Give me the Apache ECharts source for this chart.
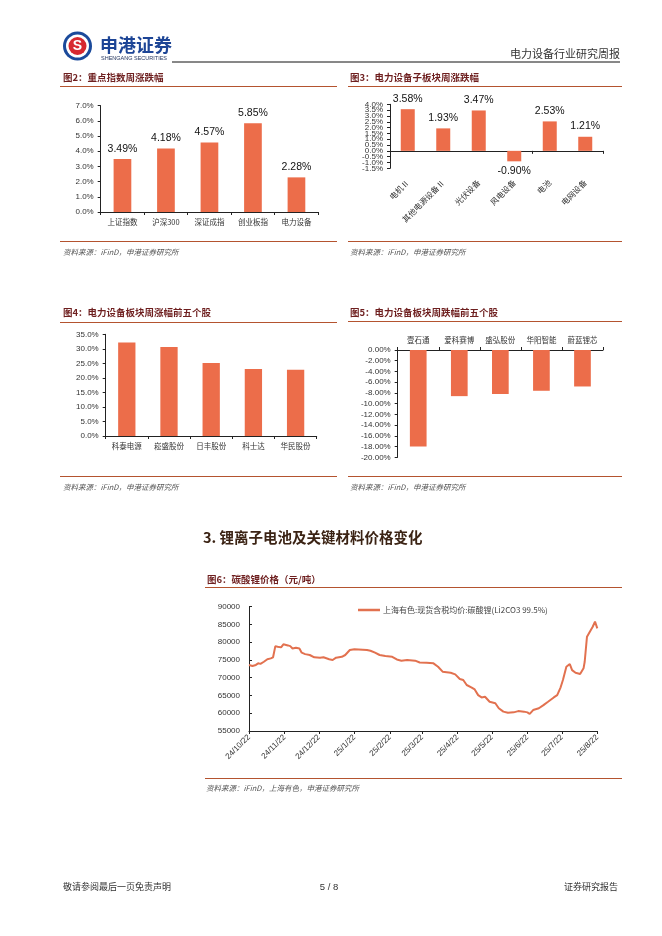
<!DOCTYPE html>
<html><head><meta charset="utf-8">
<script src="https://cdn.jsdelivr.net/npm/echarts@6/dist/echarts.min.js"></script>
<style>html,body{margin:0;padding:0;background:#fff;}#c{width:662px;height:936px;}</style>
</head><body><div id="c"></div>
<script>
// ---------- DATA ----------
const fig2Categories = ['上证指数', '沪深300', '深证成指', '创业板指', '电力设备'];
const fig2Values = [3.49, 4.18, 4.57, 5.85, 2.28];

const fig3Categories = ['电机Ⅱ', '其他电源设备Ⅱ', '光伏设备', '风电设备', '电池', '电网设备'];
const fig3Values = [3.58, 1.93, 3.47, -0.90, 2.53, 1.21];

const fig4Categories = ['科泰电源', '崧盛股份', '日丰股份', '科士达', '华民股份'];
const fig4Values = [32.2, 30.6, 25.1, 23.1, 22.8];

const fig5Categories = ['壹石通', '爱科赛博', '盛弘股份', '华阳智能', '蔚蓝锂芯'];
const fig5Values = [-18.0, -8.6, -8.2, -7.6, -6.8];

const fig6SeriesName = '上海有色:现货含税均价:碳酸锂(Li2CO3 99.5%)';
const fig6TickLabels = ['24/10/22', '24/11/22', '24/12/22', '25/1/22', '25/2/22', '25/3/22', '25/4/22', '25/5/22', '25/6/22', '25/7/22', '25/8/22'];
const fig6Dates = ['24/10/22','24/10/25','24/10/28','24/10/30','24/11/1','24/11/4','24/11/7','24/11/10','24/11/12','24/11/14','24/11/16','24/11/19','24/11/21','24/11/25','24/11/27','24/11/29','24/12/2','24/12/5','24/12/7','24/12/10','24/12/14','24/12/18','24/12/23','24/12/26','24/12/31','25/1/3','25/1/6','25/1/11','25/1/14','25/1/18','25/1/22','25/2/2','25/2/5','25/2/9','25/2/13','25/2/18','25/2/24','25/2/28','25/3/4','25/3/9','25/3/16','25/3/20','25/3/26','25/4/1','25/4/5','25/4/9','25/4/16','25/4/20','25/4/24','25/4/27','25/4/30','25/5/4','25/5/7','25/5/10','25/5/13','25/5/16','25/5/20','25/5/25','25/5/28','25/6/1','25/6/5','25/6/10','25/6/14','25/6/19','25/6/22','25/6/24','25/6/27','25/7/2','25/7/6','25/7/10','25/7/15','25/7/18','25/7/21','25/7/23','25/7/26','25/7/29','25/7/31','25/8/3','25/8/7','25/8/10','25/8/11','25/8/13','25/8/16','25/8/18','25/8/20','25/8/21','25/8/22'];
const fig6Values = [73600,73300,73600,74050,73900,74500,75200,75450,75750,78900,78750,78550,79400,79100,78900,78250,78450,78250,77050,76650,76400,75750,75650,75750,75200,75000,75650,75900,76400,77800,78000,77800,77600,77050,76400,76100,75900,75150,74800,75000,74800,74300,74200,74050,73100,71700,71400,70950,69650,69350,67950,67300,66700,65100,64450,64650,63250,62800,61400,60450,60150,60250,60600,60450,60250,59800,60900,61400,62300,63250,64450,65100,67300,69350,73100,73850,72150,71400,71050,72650,74500,81550,83250,84350,85800,85300,83900];

// ---------- STYLE ----------
const BAR = '#EC6D4A';
const LINE = '#E2714F';
const RULE = '#B4532F';
const TITLE = '#6E1F1F';
const AX = '#222';
const LAT = '"Liberation Sans", Arial, "Noto Sans CJK SC", sans-serif';
const CJK = '"Noto Sans CJK SC", "Liberation Sans", sans-serif';

// calendar-day categories for the date axis, spanning first..last tick label
function parseD(s) { const p = s.split('/').map(Number); return Date.UTC(2000 + p[0], p[1] - 1, p[2]); }
function fmtD(t) { const d = new Date(t); return (d.getUTCFullYear() % 100) + '/' + (d.getUTCMonth() + 1) + '/' + d.getUTCDate(); }
const dayCats = [];
for (let t = parseD(fig6TickLabels[0]); t <= parseD(fig6TickLabels[fig6TickLabels.length - 1]); t += 86400000) dayCats.push(fmtD(t));
const tickSet = new Set(fig6TickLabels);

function T(x, y, text, font, fill, align, va) {
  return { type: 'text', x: x, y: y, silent: true, style: { text: text, font: font, fill: fill || '#333', align: align || 'left', verticalAlign: va || 'middle' } };
}
function L(x1, y1, x2, y2, c, w) {
  return { type: 'line', silent: true, shape: { x1: x1, y1: y1, x2: x2, y2: y2 }, style: { stroke: c, lineWidth: w || 1 } };
}

const pct1 = v => v.toFixed(1) + '%';
const pct2 = v => v.toFixed(2) + '%';
const isWhole = v => Math.abs(v - Math.round(v)) < 1e-6;

const catAxisBase = (gi, cats, extra) => Object.assign({
  type: 'category', gridIndex: gi, data: cats,
  axisLine: { show: true, lineStyle: { color: AX, width: 1 } },
  axisTick: { show: true, length: 3, lineStyle: { color: AX } },
  axisLabel: { fontFamily: CJK, fontSize: 7.5, color: '#333', margin: 6, interval: 0 },
  splitLine: { show: false }
}, extra || {});
const valLabel = (fmt, margin, size) => ({
  fontFamily: LAT, fontSize: size || 8, color: '#333', margin: margin || 7, formatter: fmt,
  hideOverlap: false, showMinLabel: true, showMaxLabel: true
});
const valAxisBase = (gi, min, max, interval, fmt, extra) => Object.assign({
  type: 'value', gridIndex: gi, min: min, max: max, interval: interval,
  axisLine: { show: true, lineStyle: { color: AX, width: 1 } },
  axisTick: { show: true, length: 3, lineStyle: { color: AX } },
  axisLabel: valLabel(fmt),
  splitLine: { show: false }
}, extra || {});

const graphics = [
  // logo
  { type: 'circle', silent: true, shape: { cx: 77.5, cy: 46, r: 14.5 }, style: { fill: '#1B4A9B' } },
  { type: 'circle', silent: true, shape: { cx: 77.5, cy: 46, r: 11.5 }, style: { fill: '#fff' } },
  { type: 'circle', silent: true, shape: { cx: 77.5, cy: 46, r: 9 }, style: { fill: '#D7282F' } },
  T(77.5, 46.5, 'S', 'bold 14px "Liberation Sans"', '#fff', 'center'),
  T(100, 45, '申港证券', 'bold 18px "Noto Sans CJK SC"', '#1D4596'),
  T(101, 58.5, 'SHENGANG SECURITIES', '5.5px "Liberation Sans"', '#1D2F5A'),
  L(172, 62, 620, 62, '#111', 1),
  T(620, 54, '电力设备行业研究周报', '11px "Noto Sans CJK SC"', '#333', 'right'),

  // fig 2
  T(63, 77, '图2：重点指数周涨跌幅', 'bold 9.5px ' + CJK, TITLE),
  L(60, 86.5, 337, 86.5, RULE, 1),
  L(60, 241.5, 337, 241.5, RULE, 1),
  T(63, 252, '资料来源：iFinD，申港证券研究所', 'italic 7.5px ' + CJK, '#555'),

  // fig 3
  T(350, 77, '图3：电力设备子板块周涨跌幅', 'bold 9.5px ' + CJK, TITLE),
  L(348, 86.5, 622, 86.5, RULE, 1),
  L(348, 241.5, 622, 241.5, RULE, 1),
  T(350, 252, '资料来源：iFinD，申港证券研究所', 'italic 7.5px ' + CJK, '#555'),

  // fig 4
  T(63, 312.5, '图4：电力设备板块周涨幅前五个股', 'bold 9.5px ' + CJK, TITLE),
  L(60, 322.5, 337, 322.5, RULE, 1),
  L(60, 476.5, 337, 476.5, RULE, 1),
  T(63, 487, '资料来源：iFinD，申港证券研究所', 'italic 7.5px ' + CJK, '#555'),

  // fig 5
  T(350, 312.5, '图5：电力设备板块周跌幅前五个股', 'bold 9.5px ' + CJK, TITLE),
  L(348, 321.5, 622, 321.5, RULE, 1),
  L(348, 476.5, 622, 476.5, RULE, 1),
  T(350, 487, '资料来源：iFinD，申港证券研究所', 'italic 7.5px ' + CJK, '#555'),

  // section heading
  T(203, 537.5, '3. 锂离子电池及关键材料价格变化', 'bold 14.5px ' + CJK, '#3B2314'),

  // fig 6
  T(207, 579, '图6：碳酸锂价格（元/吨）', 'bold 9.5px ' + CJK, TITLE),
  L(205, 587.5, 622, 587.5, RULE, 1),
  L(205, 778.5, 622, 778.5, RULE, 1),
  T(206, 788.5, '资料来源：iFinD，上海有色，申港证券研究所', 'italic 7.5px ' + CJK, '#555'),

  // footer
  T(63, 887, '敬请参阅最后一页免责声明', '9px ' + CJK, '#333'),
  T(329, 887, '5 / 8', '9.5px "Liberation Sans"', '#333', 'center'),
  T(618, 887, '证券研究报告', '9px ' + CJK, '#333', 'right')
];

const option = {
  animation: false,
  backgroundColor: '#fff',
  textStyle: { fontFamily: LAT },
  graphic: { elements: graphics },
  legend: {
    show: true, left: 353, top: 601, itemWidth: 22, itemHeight: 2.5, itemGap: 4,
    icon: 'rect', data: [fig6SeriesName],
    textStyle: { fontFamily: CJK, fontSize: 8, color: '#444', padding: [0, 0, 0, -2] }
  },
  grid: [
    { left: 100.7, top: 105.7, width: 217.5, height: 106.3, containLabel: false, outerBoundsMode: 'none' },
    { left: 390, top: 104.3, width: 213, height: 64, containLabel: false, outerBoundsMode: 'none' },
    { left: 105.7, top: 334.3, width: 211, height: 101.7, containLabel: false, outerBoundsMode: 'none' },
    { left: 397.7, top: 350, width: 205.3, height: 107.3, containLabel: false, outerBoundsMode: 'none' },
    { left: 249, top: 606.7, width: 348.3, height: 124.3, containLabel: false, outerBoundsMode: 'none' }
  ],
  xAxis: [
    catAxisBase(0, fig2Categories),
    catAxisBase(1, fig3Categories, { axisLabel: { show: false } }),
    catAxisBase(1, fig3Categories, {
      position: 'bottom',
      axisLine: { show: false, onZero: false }, axisTick: { show: false },
      axisLabel: { fontFamily: CJK, fontSize: 8, color: '#333', rotate: 45, margin: 13, interval: 0 }
    }),
    catAxisBase(2, fig4Categories),
    catAxisBase(3, fig5Categories, { position: 'top', axisLine: { show: true, onZero: false, lineStyle: { color: AX } } }),
    {
      type: 'category', gridIndex: 4, data: dayCats, boundaryGap: false,
      axisLine: { show: true, onZero: false, lineStyle: { color: AX } },
      axisTick: { show: true, length: 3, lineStyle: { color: AX }, interval: (i, v) => tickSet.has(v) },
      axisLabel: { fontFamily: LAT, fontSize: 8, color: '#333', rotate: 45, margin: 5, interval: (i, v) => tickSet.has(v) },
      splitLine: { show: false }
    }
  ],
  yAxis: [
    valAxisBase(0, 0, 7, 1, pct1),
    // fig 3: whole-percent labels on this axis, half-percent labels on the companion axis below
    valAxisBase(1, -1.5, 4, 0.5, pct1, { position: 'left', axisLabel: valLabel(v => isWhole(v) ? pct1(v) : '', 7, 8) }),
    valAxisBase(2, 0, 35, 5, pct1),
    valAxisBase(3, -20, 0, 2, pct2),
    valAxisBase(4, 55000, 90000, 5000, v => String(v), {
      axisTick: { show: true, inside: true, length: 3, lineStyle: { color: AX } },
      axisLabel: valLabel(v => String(v), 9, 8)
    }),
    valAxisBase(1, -1.5, 4, 0.5, pct1, {
      position: 'left', axisLine: { show: false }, axisTick: { show: false },
      axisLabel: valLabel(v => isWhole(v) ? '' : pct1(v), 7, 8)
    })
  ],
  series: [
    {
      type: 'bar', xAxisIndex: 0, yAxisIndex: 0, data: fig2Values, barWidth: 17.7,
      itemStyle: { color: BAR },
      label: { show: true, position: 'top', distance: 5, fontFamily: LAT, fontSize: 10.5, color: '#111', formatter: p => pct2(p.value) }
    },
    {
      type: 'bar', xAxisIndex: 1, yAxisIndex: 1, barWidth: 14,
      data: fig3Values.map(v => ({ value: v, label: { position: v < 0 ? 'bottom' : 'top' } })),
      itemStyle: { color: BAR },
      label: { show: true, distance: 5, fontFamily: LAT, fontSize: 10.5, color: '#111', formatter: p => pct2(p.value) }
    },
    { type: 'bar', xAxisIndex: 3, yAxisIndex: 2, data: fig4Values, barWidth: 17.3, itemStyle: { color: BAR } },
    { type: 'bar', xAxisIndex: 4, yAxisIndex: 3, data: fig5Values, barWidth: 16.7, itemStyle: { color: BAR } },
    {
      type: 'line', name: fig6SeriesName, xAxisIndex: 5, yAxisIndex: 4,
      data: fig6Dates.map((d, i) => [d, fig6Values[i]]),
      showSymbol: false, symbol: 'none', smooth: false,
      lineStyle: { color: LINE, width: 2 }, itemStyle: { color: LINE }
    }
  ]
};

const chart = echarts.init(document.getElementById('c'), null, { renderer: 'canvas', width: 662, height: 936 });
chart.setOption(option);
</script>
</body></html>
